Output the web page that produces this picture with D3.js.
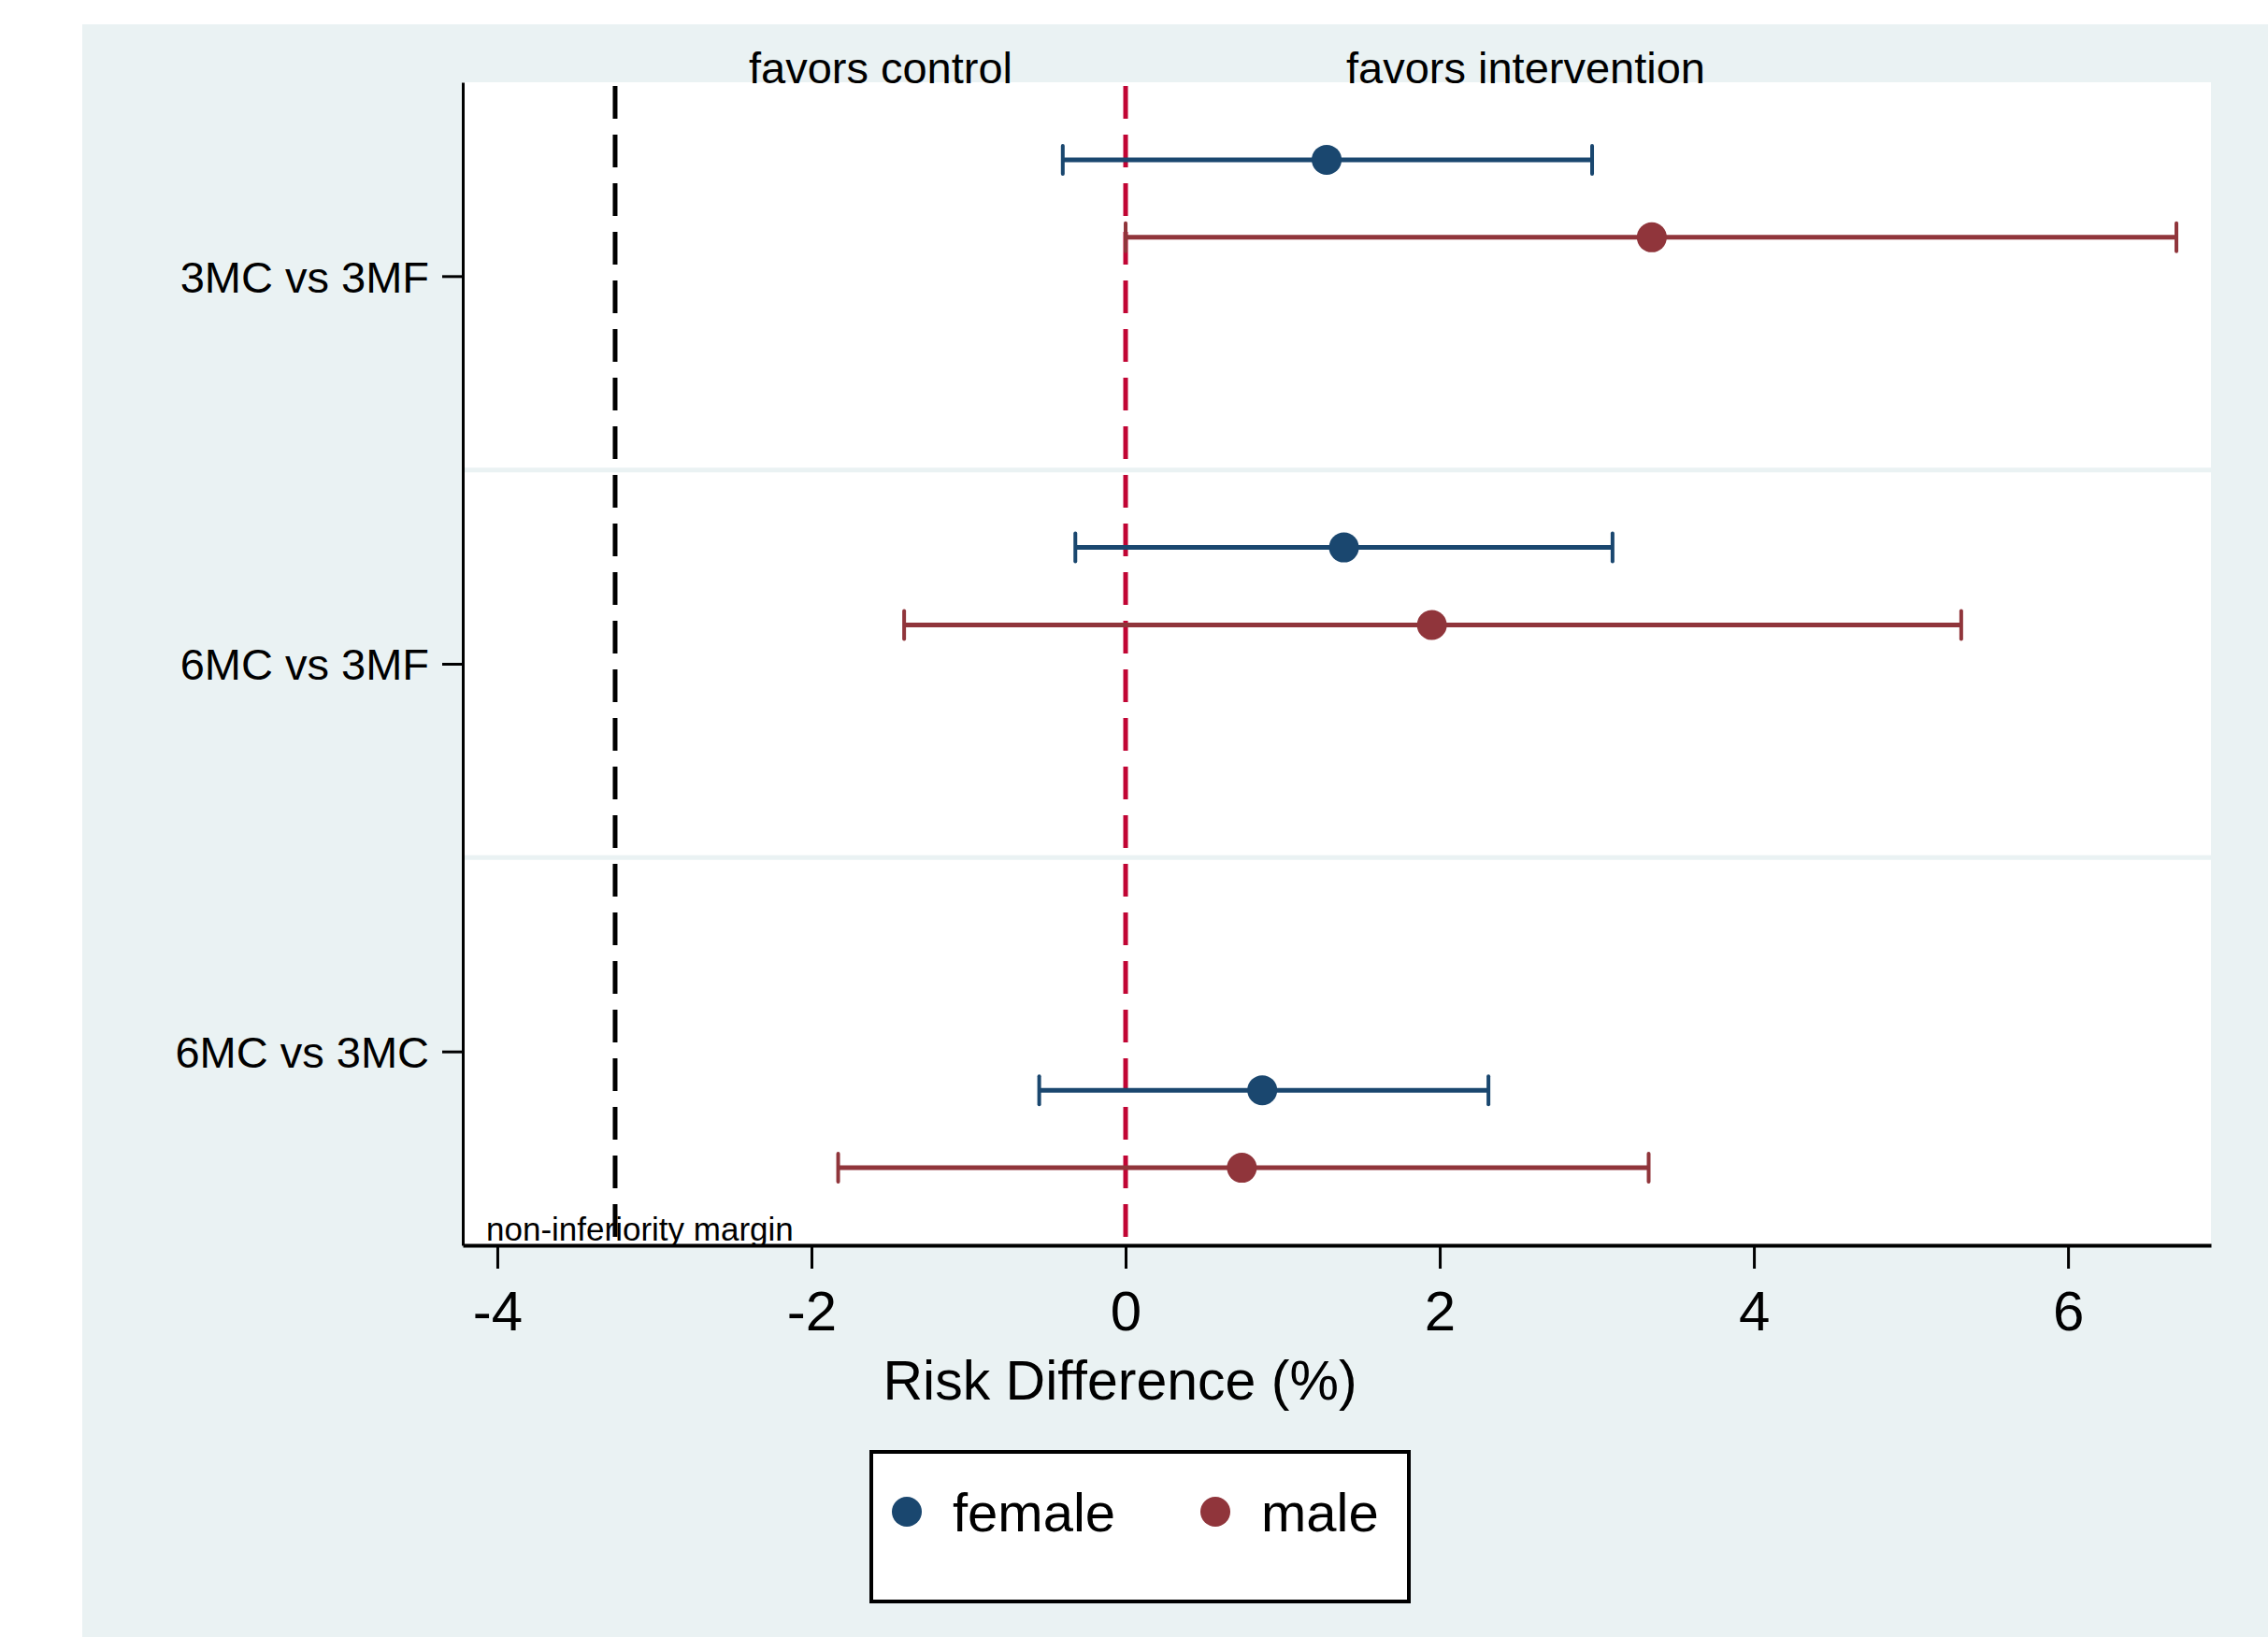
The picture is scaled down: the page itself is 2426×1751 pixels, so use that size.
<!DOCTYPE html>
<html>
<head>
<meta charset="utf-8">
<script src="https://cdn.jsdelivr.net/npm/d3@7"></script>
<style>
  body { margin: 0; background: #fff; }
  text { font-family: "Liberation Sans", Arial, Helvetica, sans-serif; }
</style>
</head>
<body>
<svg id="chart" width="2426" height="1751"></svg>
<script>
// comparisons shown on the y axis (top to bottom)
const categories = ["3MC vs 3MF", "6MC vs 3MF", "6MC vs 3MC"]
const groups = ["female", "male"]

// risk difference (%) with 95% CI
const female_est = [1.28, 1.39, 0.87]
const female_lo = [-0.40, -0.32, -0.55]
const female_hi = [2.97, 3.10, 2.31]
const male_est = [3.35, 1.95, 0.74]
const male_lo = [0.00, -1.41, -1.83]
const male_hi = [6.69, 5.32, 3.33]

// y values of each row in the original plot (category ticks at 1, 2, 3)
const female_row = [0.7, 1.7, 3.1]
const male_row = [0.9, 1.9, 3.3]

const x_ticks = [-4, -2, 0, 2, 4, 6]
const margin_value = -3.25
const null_value = 0

const colors = { female: "#1a476f", male: "#90353b" }
const bg = "#eaf2f3"

const rows = []
categories.forEach((c, i) => {
    rows.push({ group: "female", y: female_row[i], est: female_est[i], lo: female_lo[i], hi: female_hi[i] })
    rows.push({ group: "male", y: male_row[i], est: male_est[i], lo: male_lo[i], hi: male_hi[i] })
})

const svg = d3.select("#chart")
const plot_left = 495, plot_right = 2365, plot_top = 88, plot_bottom = 1332

// graph region
svg.append("rect")
    .attr("x", 88).attr("y", 26)
    .attr("width", 2426 - 88).attr("height", 1751 - 26)
    .attr("fill", bg)

const x = d3.scaleLinear().domain([-4.22, 6.91]).range([plot_left, plot_right])
const y = d3.scaleLinear().domain([0.5, 3.5]).range([plot_top, plot_bottom])

// plot region
svg.append("rect")
    .attr("x", plot_left).attr("y", plot_top)
    .attr("width", plot_right - plot_left).attr("height", plot_bottom - plot_top)
    .attr("fill", "white")

// separators between comparisons
svg.selectAll(".sep")
    .data([1.5, 2.5])
    .enter().append("line")
    .attr("class", "sep")
    .attr("x1", plot_left).attr("x2", plot_right)
    .attr("y1", d => y(d)).attr("y2", d => y(d))
    .style("stroke", bg)
    .attr("stroke-width", 5)

// non-inferiority margin
svg.append("line")
    .attr("x1", x(margin_value)).attr("x2", x(margin_value))
    .attr("y1", plot_top + 4).attr("y2", plot_bottom)
    .style("stroke", "black")
    .attr("stroke-width", 5)
    .attr("stroke-dasharray", "35,17")

// no difference line
svg.append("line")
    .attr("x1", x(null_value)).attr("x2", x(null_value))
    .attr("y1", plot_top + 4).attr("y2", plot_bottom)
    .style("stroke", "#c10534")
    .attr("stroke-width", 5)
    .attr("stroke-dasharray", "35,17")

svg.append("text")
    .attr("x", 520)
    .attr("y", 1327)
    .style("font-size", "35px")
    .style("fill", "black")
    .text("non-inferiority margin")

// confidence intervals
const bars = svg.selectAll(".ci")
    .data(rows)
    .enter().append("g")
    .attr("class", "ci")

bars.append("line")
    .attr("x1", d => x(d.lo)).attr("x2", d => x(d.hi))
    .attr("y1", d => y(d.y)).attr("y2", d => y(d.y))
    .style("stroke", d => colors[d.group])
    .attr("stroke-width", 5)

bars.append("line")
    .attr("x1", d => x(d.lo)).attr("x2", d => x(d.lo))
    .attr("y1", d => y(d.y) - 15).attr("y2", d => y(d.y) + 15)
    .style("stroke", d => colors[d.group])
    .attr("stroke-width", 4)
    .attr("stroke-linecap", "round")

bars.append("line")
    .attr("x1", d => x(d.hi)).attr("x2", d => x(d.hi))
    .attr("y1", d => y(d.y) - 15).attr("y2", d => y(d.y) + 15)
    .style("stroke", d => colors[d.group])
    .attr("stroke-width", 4)
    .attr("stroke-linecap", "round")

bars.append("circle")
    .attr("cx", d => x(d.est))
    .attr("cy", d => y(d.y))
    .attr("r", 16)
    .attr("fill", d => colors[d.group])

// axes
const xAxis = svg.append("g")
    .attr("transform", `translate(0,${plot_bottom})`)
    .call(d3.axisBottom(x).tickValues(x_ticks).tickSize(25).tickSizeOuter(0).tickPadding(23)
        .tickFormat(d => d < 0 ? "-" + Math.abs(d) : d))
xAxis.select(".domain").attr("stroke-width", 4)
xAxis.selectAll(".tick line").attr("stroke-width", 3)
xAxis.selectAll("text").style("font-size", "60px").attr("fill", "black")
    .style("font-family", "'Liberation Sans', Arial, sans-serif")

const yAxis = svg.append("g")
    .attr("transform", `translate(${plot_left},0)`)
    .call(d3.axisLeft(y).tickValues([1, 2, 3]).tickSize(22).tickSizeOuter(0).tickPadding(14)
        .tickFormat(d => categories[d - 1]))
yAxis.select(".domain").attr("stroke-width", 3)
yAxis.selectAll(".tick line").attr("stroke-width", 3)
yAxis.selectAll("text").style("font-size", "47px").attr("fill", "black").attr("dy", "0.36em")
    .style("font-family", "'Liberation Sans', Arial, sans-serif")

svg.append("text")
    .attr("x", 1198)
    .attr("y", 1497)
    .style("text-anchor", "middle")
    .style("font-size", "59px")
    .text("Risk Difference (%)")

// annotations above the plot
svg.append("text")
    .attr("x", 942).attr("y", 89)
    .style("text-anchor", "middle")
    .style("font-size", "47px")
    .text("favors control")
svg.append("text")
    .attr("x", 1632).attr("y", 89)
    .style("text-anchor", "middle")
    .style("font-size", "47px")
    .text("favors intervention")

// legend
svg.append("rect")
    .attr("x", 932).attr("y", 1553)
    .attr("width", 575).attr("height", 160)
    .attr("fill", "white")
    .style("stroke", "black")
    .attr("stroke-width", 4)

const legend = svg.selectAll(".legend")
    .data(groups)
    .enter().append("g")
    .attr("class", "legend")
    .attr("transform", (d, i) => `translate(${970 + i * 330},1617)`)
legend.append("circle")
    .attr("r", 16)
    .attr("fill", d => colors[d])
legend.append("text")
    .attr("x", 49)
    .attr("y", 21)
    .style("font-size", "58px")
    .text(d => d)
</script>
</body>
</html>
